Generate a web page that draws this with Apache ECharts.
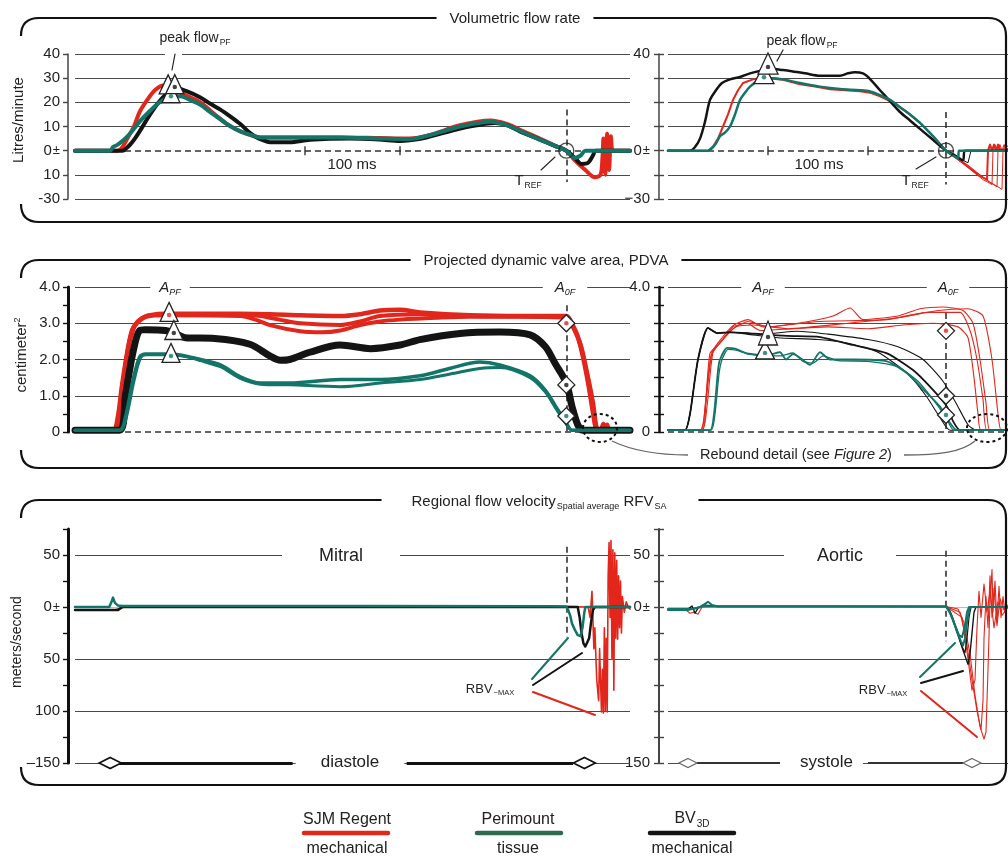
<!DOCTYPE html>
<html><head><meta charset="utf-8">
<script src="https://cdn.jsdelivr.net/npm/echarts@6/dist/echarts.min.js"></script>
<style>html,body{margin:0;padding:0;background:#fff}#c{width:1008px;height:858px}</style>
</head><body><div id="c"></div>
<script>
// ---------------- DATA (time in ms) ----------------
// Row 1: volumetric flow rate (L/min)
const flowMitralRed = [[0,0],[45,0],[50,1.5],[55,5],[62,10],[68,16],[76,21],[84,25],[93,27],[100,26.5],[111,24],[132,20],[147,15],[160,11],[174,8],[195,5.5],[237,5.5],[279,5.5],[321,5.2],[352,5],[374,6.5],[405,10.5],[437,12.5],[455,11],[472,8],[489,5],[505,2],[517,0],[526,-4],[537,-8],[547,-11],[553,-10],[555,-3],[556,5],[557,-6],[558,-10],[559,0],[560,7],[561,-2],[562,-8],[563,0],[564,6],[566,0],[584,0]];
const flowMitralGreen = [[0,0],[37,0],[40,1.5],[45,2.5],[53,5],[60,8],[68,12],[79,16.5],[89,20],[100,22],[111,22.5],[121,21],[132,19],[142,16],[153,13],[164,10],[174,8],[185,6.5],[195,5.5],[237,5.5],[279,5.5],[321,5],[352,4.8],[374,6.5],[405,10],[437,12],[455,10.5],[472,7.5],[489,4.6],[505,2],[517,0],[522,-2],[526,-3],[532,-2],[537,0],[584,0]];
const flowMitralBlack = [[0,0],[50,0],[54,1],[58,2.5],[63,5],[68,8],[79,15],[87,19.5],[95,23],[105,26],[118,24.5],[132,22],[142,19.5],[153,17],[164,14],[174,11],[182,8],[189,6],[197,4.5],[205,3.5],[226,3.5],[247,4.5],[289,5],[320,4.6],[342,4],[365,5],[384,7],[415,10],[442,11.5],[455,10.5],[468,8],[489,4.6],[505,2],[517,0],[526,-3],[533,-5.5],[540,-5],[545,-2],[548,0],[584,0]];
const flowAorticRed = [[0,0],[40,0],[45,1.7],[50,5],[55,10],[60,15],[65,21],[70,25],[75,28],[85,29.5],[92,30],[105,29.8],[115,29.3],[132,27.5],[147,26.5],[162,25.4],[177,25],[192,24.6],[202,24],[212,22.5],[222,20.5],[232,18],[242,15],[252,11.5],[265,6],[278,0],[295,-5],[310,-10],[319,-12],[320,0],[322,2.5],[324,0],[326,2.5],[328,0],[330,2.5],[332,0],[340,0]];
const flowAorticRedTailB = [[278,0],[300,-7],[315,-12],[324,-14],[325,0],[327,2.5],[329,0],[331,2.5],[333,0],[340,2]];
const flowAorticRedTailC = [[278,0],[300,-6],[318,-12],[329,-15],[330,0],[332,2.5],[334,0],[336,2.5],[338,0],[340,1]];
const flowAorticRedTailD = [[278,0],[305,-8],[322,-13],[334,-16],[335,0],[337,2.5],[339,0],[340,1]];
const flowAorticGreen = [[0,0],[40,0],[44,1],[48,3],[52,6],[57,7.5],[62,10],[67,15],[72,21],[77,24],[82,26.5],[90,29],[97,30],[105,30],[115,29.5],[132,28],[152,26.5],[172,25.5],[192,25],[202,24.5],[212,23],[222,21],[232,18],[242,15],[252,11.5],[265,6],[278,0],[285,-2],[290,-3],[291,0],[340,0]];
const flowAorticBlack = [[0,0],[22,0],[27,1.5],[32,5],[37,12],[42,21],[48,25],[54,28],[62,29.5],[72,30.5],[82,32],[92,33],[102,34],[112,33.5],[122,33],[137,32],[152,31],[172,31],[180,32],[187,32.5],[195,32],[200,30.5],[212,25],[222,20.5],[232,16],[242,12.5],[252,9],[265,4.5],[278,0],[287,-2],[295,-4],[297,0],[340,0]];
const flowAorticBlackTail = [[278,0],[290,-3],[300,-5],[303,0],[340,0]];

// Row 2: projected dynamic valve area (cm^2)
const areaMitralRedA = [[0,0.05],[40,0.05],[45,0.4],[49,1.2],[55,2.2],[60,2.8],[65,3.0],[72,3.15],[79,3.22],[95,3.26],[174,3.26],[205,3.25],[237,3.22],[279,3.2],[300,3.25],[321,3.35],[342,3.37],[363,3.3],[416,3.22],[470,3.2],[517,3.2],[524,2.9],[532,2.4],[539,1.6],[545,0.8],[549,0.1],[553,0.05],[556,0.22],[558,0.05],[560,0.2],[562,0.05],[584,0.05]];
const areaMitralRedB = [[0,0.05],[42,0.05],[47,0.5],[51,1.4],[56,2.3],[61,2.8],[66,3.05],[75,3.18],[95,3.22],[174,3.2],[190,3.1],[205,2.95],[237,2.78],[260,2.75],[279,2.8],[300,2.95],[321,3.05],[342,3.1],[380,3.15],[416,3.18],[470,3.18],[517,3.15],[522,3.0],[528,2.7],[534,2.1],[540,1.3],[545,0.5],[548,0.1],[552,0.05],[584,0.05]];
const areaMitralRedC = [[0,0.05],[41,0.05],[46,0.5],[50,1.3],[55,2.2],[60,2.8],[66,3.05],[75,3.2],[95,3.24],[174,3.24],[195,3.2],[215,3.1],[237,3.0],[279,2.95],[300,3.05],[321,3.2],[363,3.25],[416,3.2],[517,3.18],[524,2.95],[531,2.5],[538,1.7],[544,0.9],[548,0.2],[551,0.05],[584,0.05]];
const areaMitralBlack = [[0,0.05],[47,0.05],[53,1.0],[61,2.2],[68,2.8],[74,2.82],[95,2.8],[105,2.72],[116,2.6],[147,2.58],[184,2.42],[205,2.1],[216,1.98],[226,2.0],[247,2.2],[279,2.4],[311,2.3],[342,2.4],[363,2.55],[405,2.72],[447,2.76],[479,2.68],[495,2.35],[505,1.9],[517,1.35],[523,0.7],[529,0.2],[534,0.05],[584,0.05]];
const areaMitralGreenA = [[0,0.05],[47,0.05],[53,0.4],[61,1.43],[68,2.07],[74,2.15],[100,2.15],[116,2.1],[132,2.0],[153,1.85],[174,1.52],[195,1.35],[226,1.35],[279,1.45],[321,1.45],[363,1.55],[395,1.76],[426,1.93],[447,1.85],[479,1.55],[495,1.15],[506,0.7],[517,0.25],[523,0.05],[584,0.05]];
const areaMitralGreenB = [[0,0.05],[48,0.05],[54,0.4],[62,1.4],[69,2.05],[75,2.13],[100,2.13],[116,2.08],[132,1.97],[153,1.8],[174,1.48],[195,1.32],[226,1.3],[279,1.25],[321,1.35],[363,1.45],[395,1.6],[426,1.75],[447,1.78],[479,1.5],[495,1.1],[506,0.65],[517,0.22],[523,0.05],[584,0.05]];
const areaAorticRedA = [[0,0.05],[32,0.05],[37,0.6],[42,2.17],[52,2.45],[65,2.9],[79,3.0],[92,2.8],[125,2.85],[160,2.9],[200,2.85],[235,2.95],[265,3.0],[290,2.9],[300,2.6],[306,1.5],[310,0.5],[313,0.05],[340,0.05]];
const areaAorticRedB = [[0,0.05],[34,0.05],[38,0.8],[44,2.2],[54,2.6],[66,2.95],[80,3.1],[95,2.9],[130,3.0],[165,3.2],[182,3.42],[195,3.1],[230,3.2],[252,3.4],[275,3.45],[295,3.35],[305,3.0],[312,2.0],[318,0.8],[322,0.05],[340,0.05]];
const areaAorticRedC = [[0,0.05],[33,0.05],[37,0.7],[43,2.1],[53,2.5],[65,2.85],[80,3.05],[100,2.9],[150,3.05],[219,3.1],[260,3.3],[292,3.3],[302,2.8],[309,2.0],[315,0.9],[319,0.05],[340,0.05]];
const areaAorticRedD = [[0,0.05],[34,0.05],[39,0.7],[45,2.2],[55,2.55],[68,2.9],[85,2.95],[120,2.85],[180,3.0],[230,3.15],[270,3.35],[300,3.4],[315,3.2],[324,2.0],[330,0.5],[333,0.05],[340,0.05]];
const areaAorticBlackA = [[0,0.05],[17,0.05],[22,0.5],[30,2.0],[40,2.87],[49,2.73],[62,2.75],[79,2.73],[92,2.7],[119,2.65],[152,2.62],[185,2.4],[219,2.17],[245,1.71],[262,1.25],[279,0.7],[285,0.3],[292,0.05],[340,0.05]];
const areaAorticBlackB = [[0,0.05],[17,0.05],[22,0.5],[30,2.0],[40,2.87],[49,2.73],[62,2.75],[79,2.73],[92,2.7],[130,2.78],[160,2.7],[200,2.55],[230,2.35],[255,2.0],[275,1.4],[288,0.8],[300,0.2],[308,0.05],[340,0.05]];
const areaAorticBlackC = [[0,0.05],[17,0.05],[22,0.5],[30,2.0],[40,2.87],[49,2.73],[62,2.75],[79,2.7],[110,2.6],[150,2.55],[180,2.45],[210,2.2],[240,1.6],[258,1.0],[272,0.4],[282,0.05],[340,0.05]];
const areaAorticGreenA = [[0,0.05],[42,0.05],[46,0.5],[50,1.7],[52,2.0],[59,2.32],[67,2.3],[79,2.17],[99,2.12],[112,2.2],[118,2.0],[125,2.15],[132,2.05],[142,1.85],[152,2.2],[162,2.0],[185,2.0],[219,1.95],[239,1.62],[259,1.07],[272,0.7],[282,0.25],[289,0.05],[340,0.05]];
const areaAorticGreenB = [[0,0.05],[43,0.05],[47,0.5],[51,1.6],[54,2.0],[60,2.28],[68,2.26],[80,2.15],[99,2.1],[112,2.1],[125,2.18],[135,1.95],[145,1.9],[155,2.1],[170,1.97],[200,1.95],[230,1.8],[250,1.4],[265,0.9],[278,0.4],[286,0.05],[340,0.05]];

// Row 3: regional flow velocity, spatial average (m/s)
const velMitralRed = [[0,-3],[42,-3],[48,-1],[55,0.5],[517,0.5],[540,0],[542,-10],[544,15],[546,-40],[547,-20],[549,-70],[551,-90],[552,-40],[554,-101],[555,-60],[556,-102],[557,-20],[558,-100],[559,-30],[560,-101],[561,30],[562,62],[563,-10],[564,64],[565,-50],[566,55],[567,-80],[568,52],[569,-30],[570,45],[571,-31],[572,30],[573,-20],[574,25],[575,-25],[576,10],[578,-5],[580,5],[582,0],[584,-2]];
const velMitralGreen = [[0,0],[36,0],[38,4],[40,9],[42,4],[45,1.5],[50,1],[300,1],[500,0.8],[517,0.5],[519,-3],[521,-8],[523,-16],[526,-22],[529,-27],[532,-28],[534,-20],[536,-5],[537,0],[584,0]];
const velMitralBlack = [[0,-3],[45,-3],[50,0],[517,0],[529,0],[531,-10],[533,-25],[535,-35],[537,-38],[539,-37],[541,-30],[543,-15],[545,-3],[547,0],[584,0]];
const velAorticRedA = [[0,-3],[18,-3],[22,-6],[26,-5],[30,-7],[34,0],[50,0.5],[278,0.5],[290,-2],[296,-15],[302,-45],[307,-85],[312,-115],[316,-127],[318,-120],[320,-60],[322,5],[324,36],[325,-5],[327,25],[329,-15],[331,20],[333,-10],[335,10],[337,-5],[340,2]];
const velAorticRedB = [[278,0.5],[292,-5],[298,-30],[304,-70],[309,-100],[313,-118],[315,-90],[316,-30],[318,10],[320,-20],[322,30],[324,-10],[326,18],[329,-18],[332,8],[336,-3],[340,0]];
const velAorticRedC = [[278,0.5],[294,-10],[300,-50],[304,-80],[307,-70],[309,-20],[311,15],[313,-10],[316,22],[319,-5],[322,15],[326,-20],[330,5],[334,-8],[340,0]];
const velAorticGreenA = [[0,-3],[20,-3],[28,-1],[33,0],[37,3],[40,5],[44,2],[50,0.5],[278,0.5],[281,-3],[285,-12],[289,-24],[293,-33],[295,-37],[297,-30],[299,-15],[301,-3],[303,0],[340,0]];
const velAorticGreenB = [[0,-2],[25,-2],[35,1],[50,0.5],[278,0.5],[282,-6],[287,-18],[291,-27],[294,-29],[297,-18],[299,-5],[301,0],[340,0]];
const velAorticBlackA = [[0,-2],[20,-2],[24,1],[27,-6],[30,-1],[35,2],[45,1],[278,0.5],[282,-4],[287,-18],[292,-33],[297,-47],[300,-55],[302,-45],[304,-25],[306,-5],[308,0],[340,0]];
const velAorticBlackB = [[278,0.5],[283,-6],[289,-22],[294,-38],[297,-44],[299,-30],[301,-10],[303,0],[340,0]];

// Event markers
const peakFlowMitralRed = [[98,26.2]], peakFlowMitralGreen = [[101,22.5]], peakFlowMitralBlack = [[105,26.3]];
const peakFlowAorticGreen = [[96,30.4]], peakFlowAorticBlack = [[100,34.6]];
const apfMitralRed = [[99,3.23]], apfMitralBlack = [[104,2.73]], apfMitralGreen = [[101,2.1]];
const apfAorticBlack = [[100,2.62]], apfAorticGreen = [[97,2.18]];
const a0fMitralRed = [[517,3.0]], a0fMitralBlack = [[517,1.3]], a0fMitralGreen = [[517,0.44]];
const a0fAorticRed = [[278,2.79]], a0fAorticBlack = [[278,1.0]], a0fAorticGreen = [[278,0.47]];
const trefMitral = [[517,0]], trefAortic = [[278,0]];
const trefLineMitral = [[517,17],[517,-13]], trefLineAortic = [[278,16],[278,-14]];
const a0fLineMitral = [[517,3.5],[517,0]], a0fLineAortic = [[278,3.28],[278,0]];
const velLineMitral = [[517,58],[517,-29]], velLineAortic = [[278,54],[278,-33]];
const scaleBarMitral = [[242,0],[342,0]], scaleBarAortic = [[100,0],[200,0]];
const diastoleBars = [[45,229],[349,524]], diastoleMarks = [[37,-150],[536,-150]];
const systoleBars = [[29,112],[200,295]], systoleMarks = [[20,-150],[304,-150]];

// Axis ticks and labels
const flowTicks = [40,30,20,10,0,-10,-20];
const flowLabelsLeft = ['40','30','20','10','0±','10','-30'];
const flowLabelsRight = ['40','','','','0±','','−30'];
const areaTicks = [4,3,2,1,0];
const areaLabelsLeft = ['4.0','3.0','2.0','1.0','0'];
const areaLabelsRight = ['4.0','','','','0'];
const velTicks = [50,0,-50,-100,-150];
const velLabelsLeft = ['50','0±','50','100','–150'];
const velLabelsRight = ['50','0±','','','–150'];
const flowGridLines = [40,30,20,10,-10,-20];
const areaGridLines = [4,3,2,1];
const velGridLines = [50,-50,-100,-150];

// ---------------- CHART ----------------
const FONT = '"Liberation Sans", Arial, Helvetica, sans-serif';
const RED = '#e2261c', GREEN = '#137468', BLACK = '#141414', GREY = '#4a4a4a';

const chart = echarts.init(document.getElementById('c'), null, {width:1008, height:858});

const grids = [
  {left:75, top:54, width:555, height:145},
  {left:668, top:54, width:340, height:145},
  {left:75, top:287, width:555, height:145},
  {left:668, top:287, width:340, height:145},
  {left:75, top:529, width:555, height:234},
  {left:668, top:529, width:340, height:234}
].map(g => Object.assign({outerBoundsMode:'none', containLabel:false}, g));

const xAxes = [584,340,584,340,584,340].map((mx,i) => ({gridIndex:i, type:'value', min:0, max:mx, show:false}));

function fmt(ticks, labels) {
  return v => { const i = ticks.indexOf(Math.round(v*1000)/1000); if (i < 0) return ''; const s = labels[i]; return s === '0±' ? '{z|0}{pm|±}' : s; };
}
const labelRich = {z:{fontSize:15, fontFamily:FONT, color:'#222'}, pm:{fontSize:13, fontFamily:FONT, color:'#222', padding:[0,0,0,1]}};
function yAx(g, min, max, interval, ticks, labels, lineColor, lineWidth, offset, minor) {
  return {gridIndex:g, type:'value', min, max, interval, position:'left', offset,
    axisLine:{show:true, onZero:false, lineStyle:{color:lineColor, width:lineWidth}},
    axisTick:{show:true, length:5, lineStyle:{color:lineColor, width:1.4}},
    minorTick:{show:!!minor, splitNumber:2, length:5, lineStyle:{color:lineColor, width:1.4}},
    axisLabel:{show:true, formatter:fmt(ticks, labels), fontSize:15, fontFamily:FONT, color:'#222', margin:offset===7?8:9, rich:labelRich},
    splitLine:{show:false}, minorSplitLine:{show:false}};
}
function yInner(g, min, max, interval, color, minor) {
  return {gridIndex:g, type:'value', min, max, interval, position:'left', offset:9,
    axisLine:{show:false, onZero:false}, axisTick:{show:true, inside:true, length:5, lineStyle:{color, width:1.4}},
    minorTick:{show:!!minor, splitNumber:2, length:5, lineStyle:{color, width:1.4}},
    axisLabel:{show:false}, splitLine:{show:false}};
}
const yAxes = [
  yAx(0,-20,40,10,flowTicks,flowLabelsLeft,'#444',1.5,7,false),
  yAx(1,-20,40,10,flowTicks,flowLabelsRight,'#444',1.5,9,false),
  yAx(2,0,4,1,areaTicks,areaLabelsLeft,'#111',3,7,true),
  yAx(3,0,4,1,areaTicks,areaLabelsRight,'#111',2.5,9,true),
  yAx(4,-150,75,25,velTicks,velLabelsLeft,'#111',3,7,false),
  yAx(5,-150,75,25,velTicks,velLabelsRight,'#444',2,9,false),
  yInner(1,-20,40,10,'#444',false),
  yInner(3,0,4,1,'#111',true),
  yInner(5,-150,75,25,'#444',false)
];

const solid = v => ({yAxis:v, lineStyle:{color:GREY, width:1.2, type:'solid'}});
const dashedZero = {yAxis:0, lineStyle:{color:'#333', width:1.5, type:[6,4]}};
const lightZero = {yAxis:0, lineStyle:{color:'#bbbbbb', width:1, type:'solid'}};
const vDash = pts => [{coord:pts[0], lineStyle:{color:'#333', width:1.6, type:[6,4]}}, {coord:pts[1]}];
const thickSeg = (y, w, c) => seg => [{coord:[seg[0], y], lineStyle:{color:c, width:w, type:'solid'}}, {coord:[seg[1], y]}];

function base(g, data) {
  return {type:'line', xAxisIndex:g, yAxisIndex:g, data:[], silent:true, animation:false, z:1,
    markLine:{silent:true, animation:false, symbol:['none','none'], z:1, label:{show:false}, data}};
}
function curve(g, data, color, width, smooth) {
  return {type:'line', xAxisIndex:g, yAxisIndex:g, data, symbol:'none', showSymbol:false, silent:true, animation:false, z:3,
    smooth: smooth || false, lineStyle:{color, width, cap:'round', join:'round'}};
}
function shapes(g, data, symbol, size, offset, stroke, bw) {
  return {type:'scatter', xAxisIndex:g, yAxisIndex:g, data, symbol, symbolSize:size, symbolOffset:offset||[0,0], silent:true, animation:false, z:10,
    itemStyle:{color:'#ffffff', borderColor:stroke||'#222', borderWidth:bw||1.3, opacity:1}};
}
function ring(g, data) {
  return {type:'scatter', xAxisIndex:g, yAxisIndex:g, data, symbol:'circle', symbolSize:15, silent:true, animation:false, z:10,
    itemStyle:{color:'rgba(0,0,0,0)', borderColor:'#222', borderWidth:1.4}};
}
function dots(g, data, color) {
  return {type:'scatter', xAxisIndex:g, yAxisIndex:g, data, symbol:'circle', symbolSize:4.5, silent:true, animation:false, z:11, itemStyle:{color}};
}
function ticksOnLine(g, data) {
  return {type:'scatter', xAxisIndex:g, yAxisIndex:g, data, symbol:'rect', symbolSize:[1.6,9], silent:true, animation:false, z:9, itemStyle:{color:'#222'}};
}

const TRI = [18,19], TRIOFF = [0,-3];
const series = [
  // --- Row 1
  base(0, flowGridLines.map(solid).concat([dashedZero, vDash(trefLineMitral)])),
  base(1, flowGridLines.map(solid).concat([dashedZero, vDash(trefLineAortic)])),
  curve(0, flowMitralRed, RED, 4, 0.3),
  curve(0, flowMitralBlack, BLACK, 4, 0.3),
  curve(0, flowMitralGreen, GREEN, 4, 0.3),
  curve(1, flowAorticRedTailB, RED, 1, false),
  curve(1, flowAorticRedTailC, RED, 1, false),
  curve(1, flowAorticRedTailD, RED, 1, false),
  curve(1, flowAorticRed, RED, 2, false),
  curve(1, flowAorticBlackTail, BLACK, 1, false),
  curve(1, flowAorticBlack, BLACK, 2.5, 0.3),
  curve(1, flowAorticGreen, GREEN, 2.5, 0.3),
  ticksOnLine(0, scaleBarMitral), ticksOnLine(1, scaleBarAortic),
  ring(0, trefMitral), ring(1, trefAortic),
  shapes(0, peakFlowMitralRed, 'triangle', TRI, TRIOFF),
  shapes(0, peakFlowMitralGreen, 'triangle', TRI, TRIOFF),
  shapes(0, peakFlowMitralBlack, 'triangle', TRI, TRIOFF),
  dots(0, peakFlowMitralGreen, GREEN), dots(0, peakFlowMitralBlack, BLACK),
  shapes(1, peakFlowAorticGreen, 'triangle', [20,19], TRIOFF),
  shapes(1, peakFlowAorticBlack, 'triangle', [20,21], [0,-3.5]),
  dots(1, peakFlowAorticGreen, GREEN), dots(1, peakFlowAorticBlack, BLACK),
  // --- Row 2
  base(2, areaGridLines.map(solid).concat([dashedZero, vDash(a0fLineMitral)])),
  base(3, areaGridLines.map(solid).concat([dashedZero, vDash(a0fLineAortic)])),
  curve(2, areaMitralRedA, RED, 4.5, 0.3),
  curve(2, areaMitralRedB, RED, 4, 0.3),
  curve(2, areaMitralRedC, RED, 4, 0.3),
  curve(2, areaMitralBlack, BLACK, 7, 0.3),
  curve(2, areaMitralGreenA, GREEN, 3.5, 0.3),
  curve(2, areaMitralGreenB, GREEN, 3, 0.3),
  curve(3, areaAorticRedA, RED, 1.1, 0.2),
  curve(3, areaAorticRedB, RED, 1.1, 0.2),
  curve(3, areaAorticRedC, RED, 1.1, 0.2),
  curve(3, areaAorticRedD, RED, 1.1, 0.2),
  curve(3, areaAorticBlackB, BLACK, 1.1, 0.2),
  curve(3, areaAorticBlackC, BLACK, 1.1, 0.2),
  curve(3, areaAorticBlackA, BLACK, 1.8, 0.2),
  curve(3, areaAorticGreenB, GREEN, 1.3, 0.2),
  curve(3, areaAorticGreenA, GREEN, 1.8, 0.2),
  shapes(2, apfMitralRed, 'triangle', TRI, TRIOFF), dots(2, apfMitralRed, RED),
  shapes(2, apfMitralBlack, 'triangle', TRI, TRIOFF), dots(2, apfMitralBlack, BLACK),
  shapes(2, apfMitralGreen, 'triangle', TRI, TRIOFF), dots(2, apfMitralGreen, GREEN),
  shapes(3, apfAorticGreen, 'triangle', [19,18], TRIOFF), dots(3, apfAorticGreen, GREEN),
  shapes(3, apfAorticBlack, 'triangle', [19,24], [0,-4]), dots(3, apfAorticBlack, BLACK),
  shapes(2, a0fMitralRed, 'diamond', 17), dots(2, a0fMitralRed, RED),
  shapes(2, a0fMitralBlack, 'diamond', 17), dots(2, a0fMitralBlack, BLACK),
  shapes(2, a0fMitralGreen, 'diamond', 17), dots(2, a0fMitralGreen, GREEN),
  shapes(3, a0fAorticRed, 'diamond', 17), dots(3, a0fAorticRed, RED),
  shapes(3, a0fAorticBlack, 'diamond', 17), dots(3, a0fAorticBlack, BLACK),
  shapes(3, a0fAorticGreen, 'diamond', 17), dots(3, a0fAorticGreen, GREEN),
  // --- Row 3
  base(4, velGridLines.map(solid).concat([lightZero, vDash(velLineMitral)], diastoleBars.map(thickSeg(-150, 3, '#111')))),
  base(5, velGridLines.map(solid).concat([lightZero, vDash(velLineAortic)], systoleBars.map(thickSeg(-150, 2, '#333')))),
  curve(4, velMitralRed, RED, 1.6, false),
  curve(4, velMitralBlack, BLACK, 2.5, false),
  curve(4, velMitralGreen, GREEN, 2.5, false),
  curve(5, velAorticRedB, RED, 1.1, false),
  curve(5, velAorticRedC, RED, 1.1, false),
  curve(5, velAorticRedA, RED, 1.1, false),
  curve(5, velAorticBlackB, BLACK, 1.2, false),
  curve(5, velAorticBlackA, BLACK, 1.4, false),
  curve(5, velAorticGreenB, GREEN, 2, false),
  curve(5, velAorticGreenA, GREEN, 2, false),
  shapes(4, diastoleMarks, 'diamond', [22,11], [0,0], '#111', 1.8),
  shapes(5, systoleMarks, 'diamond', [18,9], [0,0], '#666', 1.4)
];

// ---------------- ANNOTATIONS ----------------
const subRich = fs => ({s:{fontSize:fs, fontFamily:FONT, fill:'#222', verticalAlign:'bottom', padding:[0,0,0,1]}});
function txt(x, y, text, o) {
  return {type:'text', x, y, z:100, silent:true, style:Object.assign({text, fill:'#222', fontSize:15, fontFamily:FONT, align:'center', verticalAlign:'middle'}, o||{})};
}
function seg(x1, y1, x2, y2, stroke, w) {
  return {type:'line', z:100, silent:true, shape:{x1,y1,x2,y2}, style:{stroke, lineWidth:w||1.2, lineCap:'round'}};
}
function corner(x1, y1, cx, cy, x2, y2) {
  return {type:'bezierCurve', z:90, silent:true, shape:{x1, y1, cpx1:cx, cpy1:cy, x2, y2}, style:{stroke:'#111', fill:null, lineWidth:2.2}};
}
function panel(top, bottom) {
  const L = 21, R = 1006, r = 18, st = {stroke:'#111', lineWidth:2.2};
  return [
    corner(L, top + r, L, top, L + r, top),
    {type:'line', z:90, silent:true, shape:{x1:L + r, y1:top, x2:R - r, y2:top}, style:st},
    corner(R - r, top, R, top, R, top + r),
    {type:'line', z:90, silent:true, shape:{x1:R, y1:top + r, x2:R, y2:bottom - r}, style:st},
    corner(R, bottom - r, R, bottom, R - r, bottom),
    {type:'line', z:90, silent:true, shape:{x1:R - r, y1:bottom, x2:L + r, y2:bottom}, style:st},
    corner(L + r, bottom, L, bottom, L, bottom - r)
  ];
}
const italicRich = {a:{fontSize:15, fontStyle:'italic', fontFamily:FONT, fill:'#222'}, s:{fontSize:9, fontStyle:'italic', fontFamily:FONT, fill:'#222', verticalAlign:'bottom'}};

const graphic = [].concat(panel(18, 222), panel(260, 468), panel(500, 785), [
  txt(515, 19, 'Volumetric flow rate', {backgroundColor:'#fff', padding:[2,13]}),
  txt(546, 261, 'Projected dynamic valve area, PDVA', {backgroundColor:'#fff', padding:[2,13]}),
  txt(540, 502, 'Regional flow velocity{s|Spatial average} RFV{s|SA}', {backgroundColor:'#fff', padding:[2,32,2,30], lineHeight:18, rich:subRich(9)}),
  Object.assign(txt(19, 120, 'Litres/minute', {fontSize:15}), {rotation:Math.PI/2}),
  Object.assign(txt(22, 355, 'centimeter{p|2}', {fontSize:15, lineHeight:18, rich:{p:{fontSize:9, fontFamily:FONT, fill:'#222', verticalAlign:'top'}}}), {rotation:Math.PI/2}),
  Object.assign(txt(17, 642, 'meters/second', {fontSize:14}), {rotation:Math.PI/2}),
  // peak flow
  txt(195, 38, 'peak flow{s|PF}', {fontSize:14, lineHeight:18, rich:subRich(8.5)}),
  {type:'rect', z:95, silent:true, shape:{x:165, y:51, width:17, height:6}, style:{fill:'#fff'}},
  seg(175, 54, 172, 70, '#222', 1.2),
  txt(802, 41, 'peak flow{s|PF}', {fontSize:14, lineHeight:18, rich:subRich(8.5)}),
  seg(783, 50, 777, 61, '#222', 1.2),
  txt(352, 165, '100 ms', {fontSize:15}),
  txt(819, 165, '100 ms', {fontSize:15}),
  txt(528, 181, 'T{s|REF}', {fontSize:15, lineHeight:18, rich:subRich(8.5)}),
  seg(541, 170, 555, 157, '#222', 1.1),
  txt(915, 181, 'T{s|REF}', {fontSize:15, lineHeight:18, rich:subRich(8.5)}),
  seg(916, 169, 936, 157, '#222', 1.1),
  // A_PF / A_0F
  txt(170, 288, '{a|A}{s|PF}', {backgroundColor:'#fff', padding:[1,9], lineHeight:18, rich:italicRich}),
  txt(565, 288, '{a|A}{s|0F}', {backgroundColor:'#fff', padding:[1,12], lineHeight:18, rich:italicRich}),
  txt(763, 288, '{a|A}{s|PF}', {backgroundColor:'#fff', padding:[1,11], lineHeight:18, rich:italicRich}),
  txt(948, 288, '{a|A}{s|0F}', {backgroundColor:'#fff', padding:[1,11], lineHeight:18, rich:italicRich}),
  // Rebound detail
  {type:'ellipse', z:100, silent:true, shape:{cx:600, cy:428, rx:17, ry:14}, style:{stroke:'#111', fill:null, lineWidth:2, lineDash:[3,3]}},
  {type:'ellipse', z:100, silent:true, shape:{cx:987, cy:428, rx:20, ry:14}, style:{stroke:'#111', fill:null, lineWidth:2, lineDash:[3,3]}},
  {type:'bezierCurve', z:100, silent:true, shape:{x1:612, y1:441, cpx1:635, cpy1:452, cpx2:660, cpy2:455, x2:688, y2:455}, style:{stroke:'#666', fill:null, lineWidth:1.3}},
  {type:'bezierCurve', z:100, silent:true, shape:{x1:904, y1:455, cpx1:940, cpy1:455, cpx2:962, cpy2:452, x2:975, y2:441}, style:{stroke:'#666', fill:null, lineWidth:1.3}},
  txt(796, 455, 'Rebound detail (see {i|Figure 2})', {fontSize:14.5, rich:{i:{fontSize:14.5, fontStyle:'italic', fontFamily:FONT, fill:'#222'}}}),
  // Row 3 texts
  txt(341, 556, 'Mitral', {fontSize:18, backgroundColor:'#fff', padding:[2,37]}),
  txt(840, 556, 'Aortic', {fontSize:18, backgroundColor:'#fff', padding:[2,33]}),
  txt(350, 762, 'diastole', {fontSize:17, backgroundColor:'#fff', padding:[2,25]}),
  txt(780, 762, 'systole', {fontSize:17, align:'left', backgroundColor:'#fff', padding:[2,10,2,20]}),
  txt(490, 689, 'RBV{s|−MAX}', {fontSize:13, lineHeight:16, rich:subRich(7.5)}),
  seg(532, 679, 568, 638, GREEN, 2), seg(533, 685, 582, 653, BLACK, 2), seg(533, 692, 595, 715, RED, 2),
  txt(883, 690, 'RBV{s|−MAX}', {fontSize:13, lineHeight:16, rich:subRich(7.5)}),
  seg(920, 677, 955, 643, GREEN, 2), seg(921, 683, 963, 671, BLACK, 2), seg(921, 691, 977, 737, RED, 2),
  // Legend
  txt(347, 820, 'SJM Regent', {fontSize:16}),
  seg(304, 833, 388, 833, RED, 4.5),
  txt(347, 849, 'mechanical', {fontSize:16}),
  txt(518, 820, 'Perimount', {fontSize:16}),
  seg(477, 833, 561, 833, '#2e6b4e', 4.5),
  txt(518, 849, 'tissue', {fontSize:16}),
  txt(692, 819, 'BV{s|3D}', {fontSize:16, lineHeight:20, rich:subRich(10)}),
  seg(650, 833, 734, 833, BLACK, 4.5),
  txt(692, 849, 'mechanical', {fontSize:16})
]);

chart.setOption({
  animation:false,
  backgroundColor:'#ffffff',
  textStyle:{fontFamily:FONT},
  grid:grids, xAxis:xAxes, yAxis:yAxes, series, graphic
});
</script></body></html>
